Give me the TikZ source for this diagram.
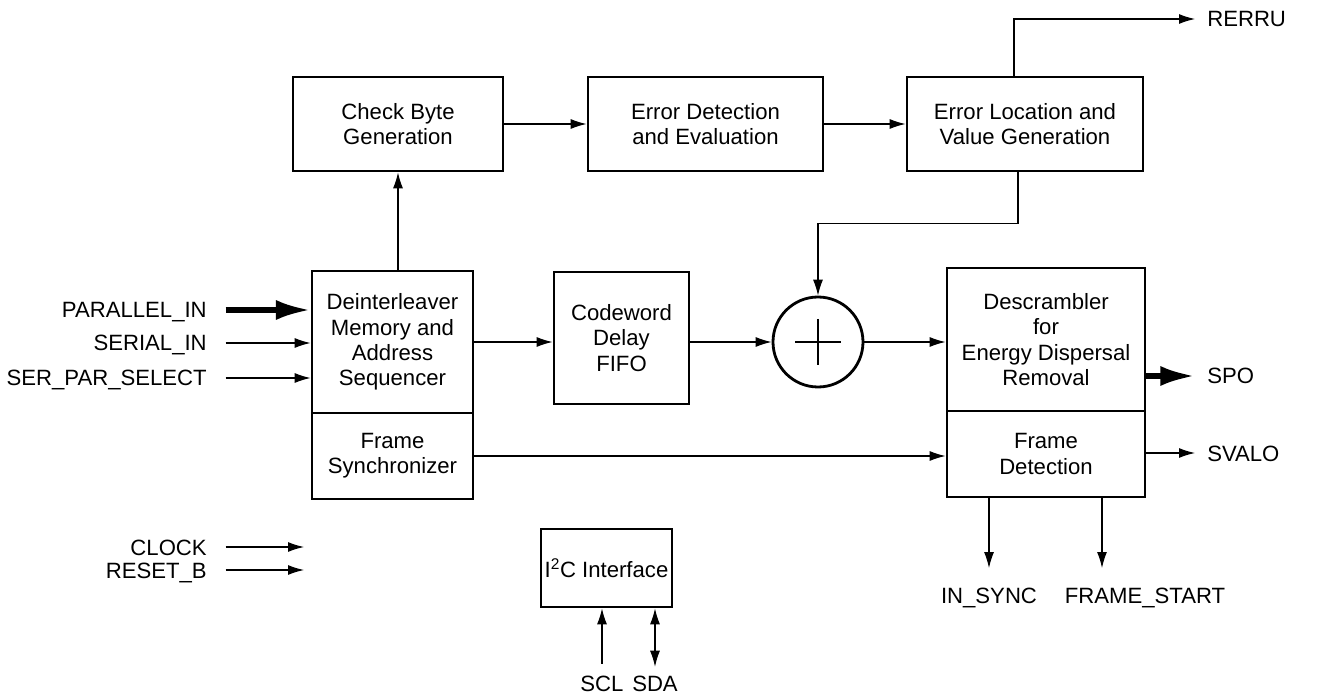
\documentclass[tikz,border=0pt]{standalone}
\usepackage{fontspec}
\setmainfont{Liberation Sans}
\usetikzlibrary{arrows.meta,calc}
\begin{document}
\begin{tikzpicture}[x=0.75pt,y=-0.75pt,
  font=\fontsize{16.6pt}{19pt}\selectfont,
  box/.style={draw,line width=2.1pt,align=center,inner sep=0pt},
  arr/.style={line width=0.85pt,-{Latex[length=12pt,width=7.5pt]}},
  biarr/.style={line width=0.85pt,{Latex[length=12pt,width=7.5pt]}-{Latex[length=12pt,width=7.5pt]}},
  thickarr/.style={line width=4pt,-{Latex[length=26pt,width=15pt]}},
  lbl/.style={inner sep=0pt,text height=12pt,text depth=0pt}]
\useasboundingbox (0,0) rectangle (1329,695);

% blocks
\node[box,minimum width=157.5pt,minimum height=70.5pt] (cb) at (398,124) {Check Byte\\Generation};
\node[box,minimum width=176.25pt,minimum height=70.5pt] (ed) at (705.5,124) {Error Detection\\and Evaluation};
\node[box,minimum width=177pt,minimum height=70.5pt] (el) at (1025,124) {Error Location and\\Value Generation};
\node[box,minimum width=120.75pt,minimum height=106.5pt] (di) at (392.5,342) {Deinterleaver\\Memory and\\Address\\Sequencer};
\node[box,minimum width=120.75pt,minimum height=64.5pt] (fs) at (392.5,456) {Frame\\Synchronizer};
\node[box,minimum width=101.25pt,minimum height=99pt] (cw) at (621.5,338) {Codeword\\Delay\\FIFO};
\node[draw,circle,line width=2.1pt,minimum size=67.5pt,inner sep=0pt] (cx) at (818,342) {};
\node[box,minimum width=148.5pt,minimum height=107.25pt] (ds) at (1046,339.5) {Descrambler\\for\\Energy Dispersal\\Removal};
\node[box,minimum width=148.5pt,minimum height=64.5pt] (fd) at (1046,454) {Frame\\Detection};
\node[box,minimum width=98.25pt,minimum height=58.5pt] (ic) at (606.5,568) {I\textsuperscript{2}C Interface};

% plus sign
\draw[line width=0.85pt] ($(cx.center)+(-23,0)$) -- ($(cx.center)+(23,0)$);
\draw[line width=0.85pt] ($(cx.center)+(0,-23)$) -- ($(cx.center)+(0,23)$);

% labels
\node[lbl,anchor=east] (pin) at (207,310) {PARALLEL\_IN};
\node[lbl,anchor=east] (sin) at (207,343) {SERIAL\_IN};
\node[lbl,anchor=east] (sps) at (207,378) {SER\_PAR\_SELECT};
\node[lbl,anchor=east] (clk) at (207,547) {CLOCK};
\node[lbl,anchor=east] (rst) at (207,570) {RESET\_B};
\node[lbl,anchor=west] (rerru) at (1207,19) {RERRU};
\node[lbl,anchor=west] (spo) at (1207,376) {SPO};
\node[lbl,anchor=west] (svalo) at (1207,453) {SVALO};
\node[lbl] (insync) at (989,595) {IN\_SYNC};
\node[lbl] (fstart) at (1145,595) {FRAME\_START};
\node[lbl] (scl) at (602,683) {SCL};
\node[lbl] (sda) at (655,683) {SDA};

\coordinate (clkend) at (304,547);
\coordinate (rstend) at (304,570);
\coordinate (fsend) at (1102,568);

% inputs
\draw[thickarr,shorten <=14pt] (pin.east) -- (pin.east -| di.west);
\draw[arr,shorten <=14pt] (sin.east) -- (sin.east -| di.west);
\draw[arr,shorten <=14pt] (sps.east) -- (sps.east -| di.west);
\draw[arr,shorten <=14pt] (clk.east) -- (clkend);
\draw[arr,shorten <=14pt] (rst.east) -- (rstend);

% internal
\draw[arr] (di.north -| cb.south) -- (cb.south);
\draw[arr] (cb.east) -- (ed.west);
\draw[arr] (ed.east) -- (el.west);
\draw[arr,shorten >=9pt] ([xshift=-8.25pt]el.north) |- (rerru.west);
\draw[arr] ([xshift=-5.25pt]el.south) -- ++(0,51) -| (cx.north);
\draw[arr] (di.east) -- (di.east -| cw.west);
\draw[arr] (cx.west -| cw.east) -- (cx.west);
\draw[arr] (cx.east) -- (cx.east -| ds.west);
\draw[arr] (fs.east) -- (fs.east -| fd.west);

% outputs
\draw[thickarr,shorten >=9pt] (spo.west -| ds.east) -- (spo.west);
\draw[arr,shorten >=9pt] (svalo.west -| fd.east) -- (svalo.west);
\draw[arr,shorten >=14pt] (fd.south -| insync) -- (insync.north);
\draw[arr] (fd.south -| fsend) -- (fsend);
\draw[arr,shorten <=8.25pt] (scl.north) -- (scl.north |- ic.south);
\draw[biarr,shorten <=6pt] (sda.north) -- (sda.north |- ic.south);
\end{tikzpicture}
\end{document}
